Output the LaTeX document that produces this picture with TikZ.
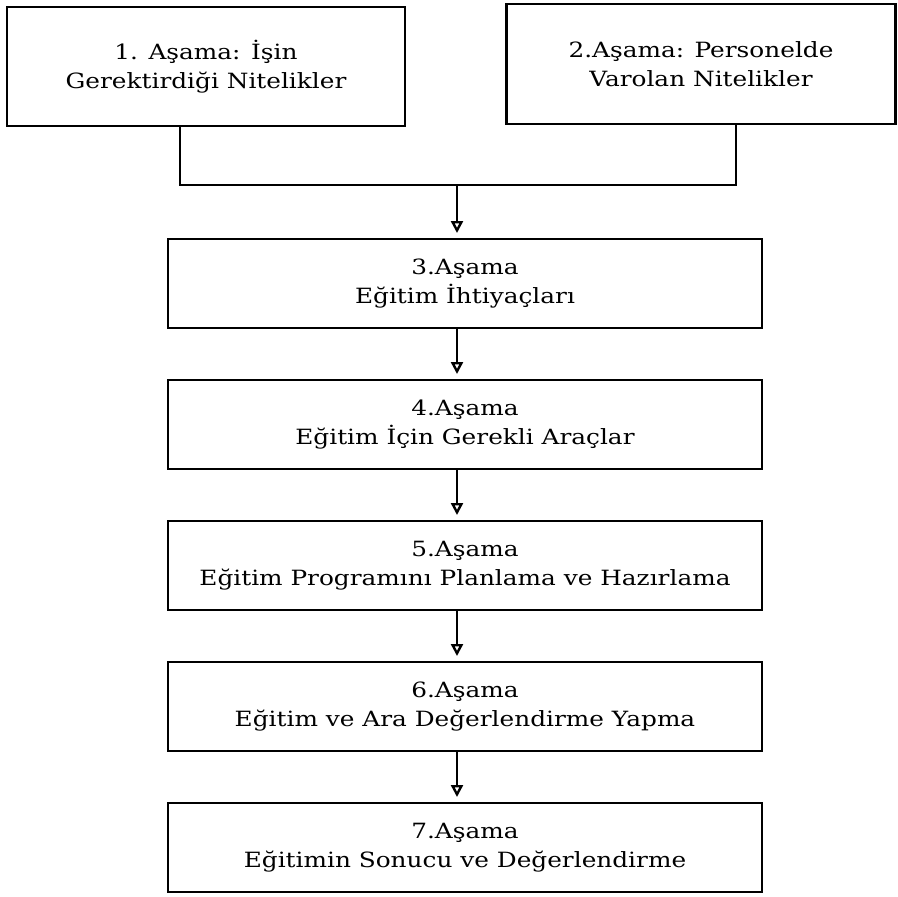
\documentclass[tikz,border=0pt]{standalone}
\usepackage{fontspec}
\setmainfont[FakeStretch=1.18]{DejaVu Serif}
\usetikzlibrary{arrows.meta}
\begin{document}
\begin{tikzpicture}[x=1pt,y=-1pt,
  stagebox/.style={draw, line width=2.7pt, inner sep=0pt, outer sep=0pt,
    align=center, font=\fontsize{21}{29}\selectfont},
  widebox/.style={stagebox, minimum width=594, minimum height=89},
  conn/.style={line width=2pt},
  arr/.style={line width=2pt, shorten >=6pt,
    -{Triangle[open,length=12pt,width=12pt,line width=2.4pt]}}]
\useasboundingbox[fill=white] (0,0) rectangle (897,897);

% top two stages
\node[stagebox, minimum width=398, minimum height=119] (s1) at (206,66.5)
  {1. Aşama: İşin\\Gerektirdiği Nitelikler};
\node[stagebox, minimum width=389, minimum height=120] (s2) at (701,64)
  {2.Aşama: Personelde\\Varolan Nitelikler};

% stacked stages
\node[widebox] (s3) at (465,283.5) {3.Aşama\\Eğitim İhtiyaçları};
\node[widebox] (s4) at (465,424.5) {4.Aşama\\Eğitim İçin Gerekli Araçlar};
\node[widebox] (s5) at (465,565.5) {5.Aşama\\Eğitim Programını Planlama ve Hazırlama};
\node[widebox] (s6) at (465,706.5) {6.Aşama\\Eğitim ve Ara Değerlendirme Yapma};
\node[widebox] (s7) at (465,847.5) {7.Aşama\\Eğitimin Sonucu ve Değerlendirme};

% joining line under the top stages
\coordinate (m1) at (180,185);
\coordinate (m2) at (736,185);
\coordinate (j) at (457,185);
\draw[conn] (s1.south -| m1) -- (m1) -- (m2) -- (s2.south -| m2);

% arrows down the chain
\draw[arr] (j) -- (s3.north -| j);
\draw[arr] (s3.south -| j) -- (s4.north -| j);
\draw[arr] (s4.south -| j) -- (s5.north -| j);
\draw[arr] (s5.south -| j) -- (s6.north -| j);
\draw[arr] (s6.south -| j) -- (s7.north -| j);
\end{tikzpicture}
\end{document}
